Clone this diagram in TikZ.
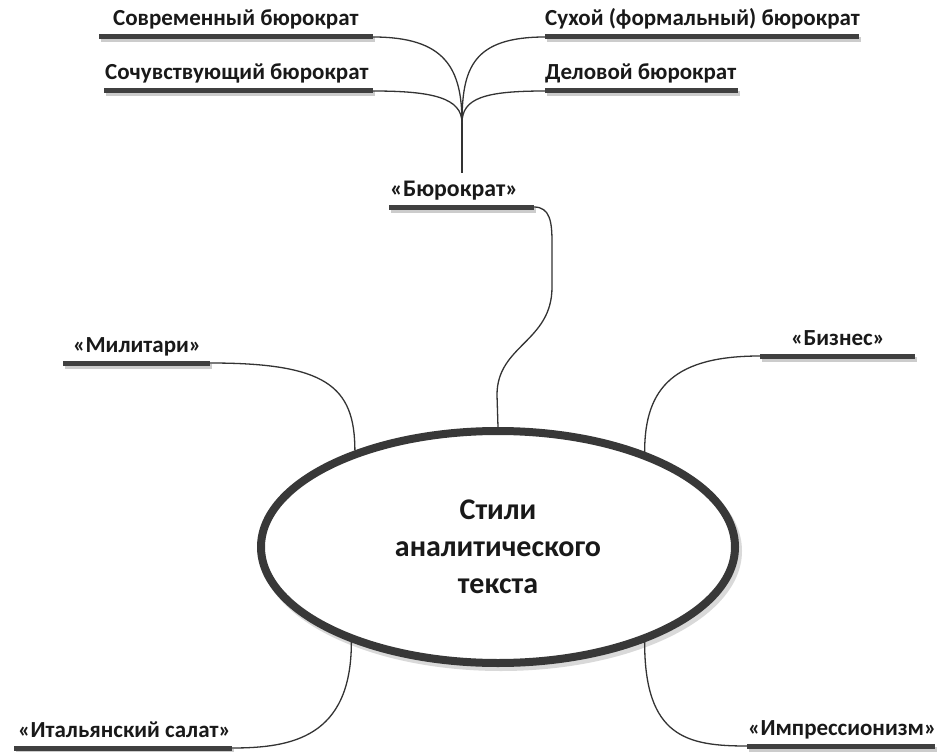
\documentclass[tikz,border=0pt]{standalone}
\usepackage{fontspec}
\setmainfont{Carlito}
\usetikzlibrary{shapes.geometric}
\begin{document}
\begin{tikzpicture}[x=1pt,y=-1pt,
  bar/.style={line width=5pt, draw=black!75},
  barshadow/.style={line width=5pt, draw=black!20},
  link/.style={line width=1.3pt, draw=black!80},
  lbl/.style={font=\bfseries\fontsize{23}{27}\selectfont, text=black!90, inner sep=0pt, anchor=base west},
  hub/.style={ellipse, draw=black!78, line width=8pt, fill=white, minimum width=474pt, minimum height=232pt, inner sep=0pt, align=center, text=black!90, font=\bfseries\fontsize{30}{37}\selectfont}
]
\useasboundingbox (0,0) rectangle (938,752);
% bar end coordinates
\coordinate (sov-s) at (99,37);  \coordinate (sov-e) at (373,37);
\coordinate (soc-s) at (104,91); \coordinate (soc-e) at (373,91);
\coordinate (suh-s) at (545,37); \coordinate (suh-e) at (859,37);
\coordinate (del-s) at (545,91); \coordinate (del-e) at (738,91);
\coordinate (bur-s) at (389,207); \coordinate (bur-e) at (534,207);
\coordinate (mil-s) at (63,363); \coordinate (mil-e) at (210,363);
\coordinate (biz-s) at (760,356); \coordinate (biz-e) at (915,356);
\coordinate (ita-s) at (14,748); \coordinate (ita-e) at (232,748);
\coordinate (imp-s) at (747,746); \coordinate (imp-e) at (935,746);
\coordinate (fan) at (462,123);
\coordinate (fanend) at (462,173);
% shadows
\foreach \a in {sov,soc,suh,del,bur,mil,biz,ita,imp}{
  \draw[barshadow] ([shift={(2,3)}]\a-s) -- ([shift={(2,3)}]\a-e);
}
\draw[draw=black!15, line width=8pt] (501,551) ellipse [x radius=237, y radius=116];
% hub
\node[hub] (ell) at (498,547) {Стили\\аналитического\\текста};
% bars
\foreach \a in {sov,soc,suh,del,bur,mil,biz,ita,imp}{
  \draw[bar] (\a-s) -- (\a-e);
}
% labels
\node[lbl] (sov) at (113,26) {Современный бюрократ};
\node[lbl] (soc) at (105,80) {Сочувствующий бюрократ};
\node[lbl] (suh) at (545,26) {Сухой (формальный) бюрократ};
\node[lbl] (del) at (545,80) {Деловой бюрократ};
\node[lbl, font=\bfseries\fontsize{23.8}{27}\selectfont] (bur) at (390,196) {«Бюрократ»};
\node[lbl] (mil) at (73,352) {«Милитари»};
\node[lbl] (biz) at (791,345) {«Бизнес»};
\node[lbl] (ita) at (18,737) {«Итальянский салат»};
\node[lbl] (imp) at (748,735) {«Импрессионизм»};
% fan
\draw[link] (sov-e) .. controls +(72,0) and +(0,-55) .. (fan);
\draw[link] (soc-e) .. controls +(60,0) and +(0,-25) .. (fan);
\draw[link] (suh-s) .. controls +(-72,0) and +(0,-55) .. (fan);
\draw[link] (del-s) .. controls +(-60,0) and +(0,-25) .. (fan);
\draw[link] (fan) -- (fanend);
% branches to hub
\draw[link] (bur-e) .. controls +(16,0) and +(0,-20) .. ++(18,35) -- ++(0,45)
  .. controls +(0,55) and +(0,-50) .. (497,395) -- (ell.north);
\draw[link] (mil-e) .. controls +(115,0) and +(0,-65) .. (ell.146);
\draw[link] (biz-s) .. controls +(-85,0) and +(0,-65) .. (ell.33);
\draw[link] (ell.213) .. controls +(0,95) and +(60,0) .. (ita-e);
\draw[link] (ell.327) .. controls +(0,95) and +(-60,0) .. (imp-s);
\end{tikzpicture}
\end{document}
